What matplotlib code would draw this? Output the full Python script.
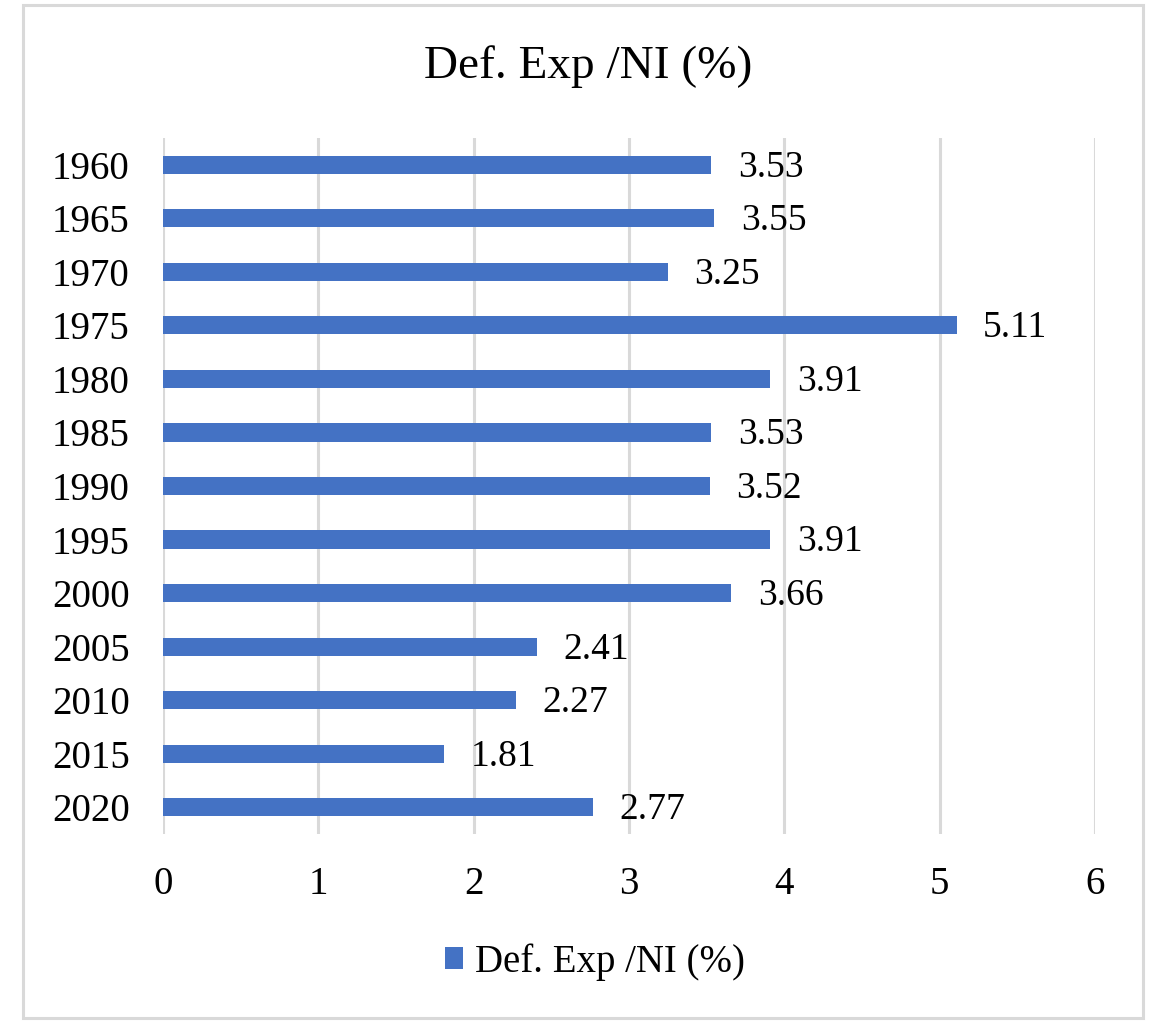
import matplotlib.pyplot as plt
from matplotlib.patches import Rectangle

years = ["1960", "1965", "1970", "1975", "1980", "1985", "1990",
         "1995", "2000", "2005", "2010", "2015", "2020"]
values = [3.53, 3.55, 3.25, 5.11, 3.91, 3.53, 3.52,
          3.91, 3.66, 2.41, 2.27, 1.81, 2.77]
x_ticks = [0, 1, 2, 3, 4, 5, 6]

plt.rcParams["font.family"] = ["Liberation Serif", "DejaVu Serif"]

blue = "#4472C4"
grid = "#d9d9d9"

fig = plt.figure(figsize=(11.64, 10.29), dpi=100)
ax = fig.add_axes([0.140, 0.1895, 0.8007, 0.6764])

pos = list(range(len(years)))
bars = ax.barh(pos, values, height=0.34, color=blue, label="Def. Exp /NI (%)", zorder=3)

# value labels to the right of each bar
for p, v in zip(pos, values):
    ax.text(v + 0.17, p + 0.05, f"{v:.2f}", va="center", ha="left", fontsize=27)

ax.set_xlim(0, 6)
ax.set_ylim(len(years) - 0.5, -0.5)
ax.set_yticks(pos)
ax.set_yticklabels(years)
ax.set_xticks(x_ticks)
ax.tick_params(axis="both", length=0, labelsize=28)
ax.tick_params(axis="x", pad=23)
ax.tick_params(axis="y", pad=24)
ax.xaxis.grid(True, color=grid, linewidth=2.2, zorder=0)
ax.set_axisbelow(True)
for s in ax.spines.values():
    s.set_visible(False)

fig.text(0.505, 0.935, "Def. Exp /NI (%)", ha="center", va="center", fontsize=34)

fig.legend(handles=[bars], loc="center", bbox_to_anchor=(0.511, 0.065),
           frameon=False, fontsize=28, handlelength=0.47, handleheight=0.47,
           handletextpad=0.3)

fig.patches.append(Rectangle((23 / 1164, 1 - 1018 / 1029), 1120 / 1164, 1013 / 1029,
                             transform=fig.transFigure, fill=False,
                             edgecolor=grid, linewidth=2.2))

fig.savefig("out.png", dpi=100)
